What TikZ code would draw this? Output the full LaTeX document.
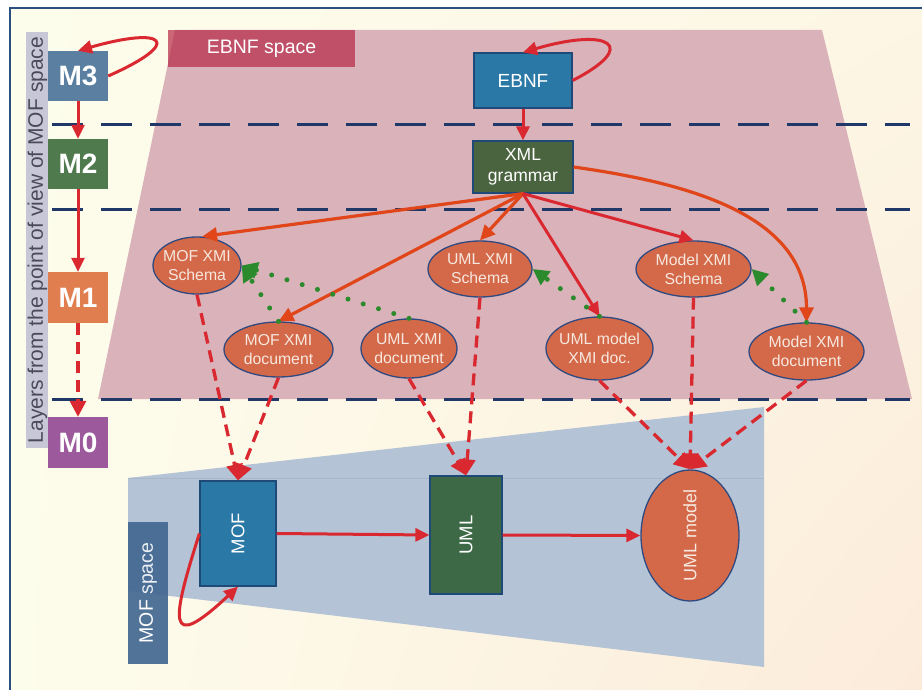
\documentclass[tikz,border=0pt]{standalone}
\usepackage{fontspec}
\setmainfont{Liberation Sans}
\usetikzlibrary{arrows.meta,shapes.geometric,shadings}
\definecolor{creamL}{HTML}{FDFDEC}
\definecolor{creamR}{HTML}{FCEBDA}
\definecolor{framec}{HTML}{2A5080}
\definecolor{pinkbg}{HTML}{D9B2BA}
\definecolor{pinklab}{HTML}{B52744}
\definecolor{bluebg}{HTML}{B4C3D6}
\definecolor{bluelab}{HTML}{3F6590}
\definecolor{strip}{HTML}{C8C7D8}
\definecolor{striptxt}{HTML}{4A4A58}
\definecolor{mthree}{HTML}{5A7FA0}
\definecolor{mtwo}{HTML}{4F7A4D}
\definecolor{mone}{HTML}{E07E50}
\definecolor{mzero}{HTML}{9C5A9C}
\definecolor{boxblue}{HTML}{2A78A6}
\definecolor{boxgreen}{HTML}{4B6440}
\definecolor{umlgreen}{HTML}{3E6947}
\definecolor{boxborder}{HTML}{1F4A78}
\definecolor{ellfill}{HTML}{D4694A}
\definecolor{ellborder}{HTML}{2F4A80}
\definecolor{elltxt}{HTML}{F6E8DE}
\definecolor{arrred}{HTML}{D9282F}
\definecolor{arror}{HTML}{E0461A}
\definecolor{grn}{HTML}{2B8A2B}
\definecolor{navy}{HTML}{1F3868}
\begin{document}
\begin{tikzpicture}[x=1pt,y=-1pt,
  mlayer/.style={minimum width=60pt, minimum height=50pt, inner sep=0pt, text=white, font=\fontsize{28}{30}\selectfont\bfseries},
  sqbox/.style={draw=boxborder, line width=1.2pt, inner sep=0pt, text=white},
  ell/.style={ellipse, fill=ellfill, draw=ellborder, line width=1.3pt, inner sep=0pt},
  elltext/.style={text=elltxt, align=center, font=\fontsize{15.8}{19}\selectfont},
  redarr/.style={draw=arrred, line width=3pt, -{Triangle[length=14pt,width=13pt]}},
  orarr/.style={draw=arror, line width=3.2pt, -{Triangle[length=15pt,width=14pt]}},
  reddash/.style={draw=arrred, line width=3.3pt, dash pattern=on 12pt off 7pt, -{Triangle[length=16pt,width=16pt]}},
  greendot/.style={draw=grn, line width=5pt, line cap=round, dash pattern=on 0pt off 16pt, -{Triangle[length=16pt,width=16pt]}},
  layerline/.style={draw=navy, line width=3pt, dash pattern=on 31pt off 18pt}
]
\useasboundingbox (0,0) rectangle (922,690);
\fill[white] (0,0) rectangle (922,690);
\shade[upper left=creamL, upper right=creamL!60!creamR, lower left=creamL, lower right=creamR] (10,8) rectangle (922,690);
\draw[framec, line width=2.5pt] (922,8) -- (10,8) -- (10,690);

% spaces
\fill[pinkbg] (175,30) -- (822,30) -- (912,399) -- (98,399) -- cycle;
\fill[pinklab, opacity=0.7] (168,30) rectangle (355,67);
\node[text=white, font=\fontsize{19.5}{21}\selectfont] (ebnfspace) at (261.5,48.5) {EBNF space};
\fill[bluebg] (128,478) -- (764,407) -- (764,667) -- (128,591) -- cycle;
\draw[bluebg!85!black, line width=0.6pt, opacity=0.4] (128,478) -- (764,478);
\fill[bluelab, opacity=0.9] (128,522) rectangle (168,664);
\node[rotate=90, text=white, font=\fontsize{19.5}{20}\selectfont] (mofspace) at (148,593) {MOF \textcolor{white!75!bluebg}{space}};

% layer lines
\draw[layerline] (52,125) -- (910,125);
\draw[layerline] (52,210) -- (910,210);
\draw[layerline] (52,399) -- (910,399);

% layer strip
\fill[strip] (26,32) rectangle (48,448);
\node[rotate=90, text=striptxt, font=\fontsize{21}{22}\selectfont] (stripl) at (37.5,240) {Layers from the point of view of MOF space};

% M boxes
\node[mlayer, fill=mthree] (m3) at (78,76) {M3};
\node[mlayer, fill=mtwo] (m2) at (78,164) {M2};
\node[mlayer, fill=mone, minimum height=51pt] (m1) at (78,297.5) {M1};
\node[mlayer, fill=mzero, minimum height=51pt] (m0) at (78,442.5) {M0};

% upper boxes
\node[sqbox, fill=boxblue, minimum width=98pt, minimum height=55pt, font=\fontsize{19}{21}\selectfont] (ebnf) at (523,80.5) {EBNF};
\node[sqbox, fill=boxgreen, minimum width=100pt, minimum height=52pt, align=center, font=\fontsize{17.5}{21}\selectfont] (xml) at (523,167) {XML\\grammar};

% ellipses
\node[ell, minimum width=88pt, minimum height=57pt] (mofs) at (197,265.5) {};
\node[elltext] at (mofs) {MOF XMI\\Schema};
\node[ell, minimum width=109pt, minimum height=55pt] (mofd) at (278.5,349.5) {};
\node[elltext] at (mofd) {MOF XMI\\document};
\node[ell, minimum width=96pt, minimum height=59pt] (umld) at (409,348.5) {};
\node[elltext] at (umld) {UML XMI\\document};
\node[ell, minimum width=104pt, minimum height=56pt] (umls) at (480,269) {};
\node[elltext] at (umls) {UML XMI\\Schema};
\node[ell, minimum width=107pt, minimum height=63pt] (umlmd) at (599.5,348.5) {};
\node[elltext] at (umlmd) {UML model\\XMI doc.};
\node[ell, minimum width=115pt, minimum height=56pt] (models) at (693.5,269) {};
\node[elltext] at (models) {Model XMI\\Schema};
\node[ell, minimum width=115pt, minimum height=57pt] (modeld) at (806.5,351.5) {};
\node[elltext] at (modeld) {Model XMI\\document};

% lower nodes
\node[sqbox, fill=boxblue, minimum width=76pt, minimum height=105pt] (mof) at (238,533.5) {};
\node[rotate=90, text=white, font=\fontsize{18.5}{20}\selectfont] at (mof) {MOF};
\node[sqbox, fill=umlgreen, minimum width=72pt, minimum height=118pt] (uml) at (466,535) {};
\node[rotate=90, text=white, font=\fontsize{18.5}{20}\selectfont] at (uml) {UML};
\node[ell, minimum width=98pt, minimum height=131pt] (umlm) at (690,535.5) {};
\node[rotate=90, text=elltxt, font=\fontsize{18}{20}\selectfont] at (umlm) {UML model};

% M arrows
\draw[redarr] (m3) -- (m2);
\draw[redarr] (m2) -- (m1);
\draw[reddash] (m1) -- (m0);
\draw[redarr] (m3.east) .. controls (185,42) and (165,26) .. (m3.north);

% EBNF
\draw[redarr] (ebnf.east) .. controls (640,46) and (610,27) .. (ebnf.north);
\draw[redarr] (ebnf) -- (xml);

% from XML grammar
\draw[orarr] (xml.south) -- (mofs.80);
\draw[orarr] (xml.south) -- (mofd.north);
\draw[orarr] (xml.south) -- (umls.north);
\draw[redarr] (xml.south) -- (umlmd.north);
\draw[redarr] (xml.south) -- (models.north);
\draw[orarr] (xml.east) to[out=-8,in=90] (modeld.north);

% green dotted
\draw[greendot] (umld.north) -- (mofs.east);
\draw[greendot] (mofd.north) -- (mofs.east);
\draw[greendot] (umlmd.north) -- (umls.east);
\draw[greendot] (modeld.north) -- (models.east);

% dashed to M0 level
\draw[reddash] (mofs.south) -- (mof.north);
\draw[reddash] (mofd.south) -- (mof.north);
\draw[reddash] (umls.south) -- (uml.north);
\draw[reddash] (umld.south) -- (uml.north);
\draw[reddash] (umlmd.south) -- (umlm.north);
\draw[reddash] (models.south) -- (umlm.north);
\draw[reddash] (modeld.south) -- (umlm.north);

% bottom
\draw[redarr] (mof.east) -- (uml.west);
\draw[redarr] (uml.east) -- (umlm.west);
\draw[redarr] (mof.west) .. controls (172,620) and (165,655) .. (mof.south);
\end{tikzpicture}
\end{document}
